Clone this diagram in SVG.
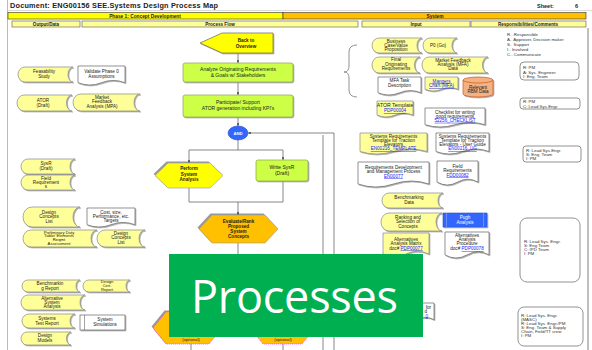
<svg xmlns="http://www.w3.org/2000/svg" width="592" height="350" viewBox="0 0 592 350">
<defs>
<style>
.t{font-family:"Liberation Sans",Arial,sans-serif;font-size:4.6px;fill:#222;text-anchor:middle}
.b{font-weight:bold}
.lk{fill:#1a1aff;text-decoration:underline}
.rt{font-family:"Liberation Sans",Arial,sans-serif;font-size:4.4px;fill:#333}
.data{fill:#FFFF99;stroke:#888;stroke-width:.7}
.doc{fill:#fff;stroke:#666;stroke-width:.7}
.docy{fill:#FFFF99;stroke:#888;stroke-width:.7}
.grn{fill:#CCFF44;stroke:#8aa04a;stroke-width:.7}
.hdr{fill:#FFFF99;stroke:#555;stroke-width:.6}
.c{stroke:#555;stroke-width:.7;fill:none}
.resp{fill:#fff;stroke:#777;stroke-width:.8}
</style>
<filter id="sh" x="-20%" y="-20%" width="140%" height="150%">
<feDropShadow dx="1" dy="1" stdDeviation=".5" flood-color="#999" flood-opacity=".8"/>
</filter>
<marker id="ar" viewBox="0 0 6 6" refX="6" refY="3" markerWidth="4" markerHeight="4" orient="auto">
<path d="M0,0 L6,3 L0,6 Z" fill="#444"/>
</marker>
</defs>
<rect width="592" height="350" fill="#fff"/>

<!-- frame -->
<line x1="7.5" y1="0" x2="7.5" y2="350" stroke="#bbb" stroke-width="1"/>
<line x1="8" y1="10.5" x2="592" y2="10.5" stroke="#ccc" stroke-width=".7"/>
<line x1="588" y1="28" x2="588" y2="350" stroke="#aaa" stroke-width="1.5"/>

<!-- header -->
<g id="header">
<text x="10" y="8.3" font-family="Liberation Sans, Arial, sans-serif" font-size="7.3" font-weight="bold" fill="#222" textLength="208">Document: ENG00156   SEE.Systems Design Process Map</text>
<text x="537" y="8" font-family="Liberation Sans, Arial, sans-serif" font-size="5.5" font-weight="bold" fill="#222">Sheet:</text>
<text x="575" y="8" font-family="Liberation Sans, Arial, sans-serif" font-size="5.5" font-weight="bold" fill="#222">6</text>
<rect x="8" y="12.5" width="275" height="6.5" fill="#FFFF00" stroke="#333" stroke-width=".6"/>
<rect x="283" y="12.5" width="303" height="6.5" fill="#FFC000" stroke="#333" stroke-width=".6"/>
<text class="t b" x="145" y="17.6" style="font-size:4.8px">Phase 1: Concept Development</text>
<text class="t b" x="435" y="17.6" style="font-size:4.8px">System</text>
<rect class="hdr" x="12" y="21" width="68" height="6"/>
<rect class="hdr" x="82" y="21" width="276" height="6"/>
<rect class="hdr" x="362" y="21" width="108" height="6"/>
<rect class="hdr" x="471" y="21" width="115" height="6"/>
<text class="t b" x="46" y="25.6" style="font-size:4.6px">Output/Data</text>
<text class="t b" x="220" y="25.6" style="font-size:4.6px">Process Flow</text>
<text class="t b" x="416" y="25.6" style="font-size:4.6px">Input</text>
<text class="t b" x="528" y="25.6" style="font-size:4.6px">Responsibilities/Comments</text>
</g>

<!-- connectors -->
<g id="connectors">
<path class="c" d="M238,53 V63" marker-end="url(#ar)"/>
<path class="c" d="M238,82 V95" marker-end="url(#ar)"/>
<path class="c" d="M238,117 V126" marker-end="url(#ar)"/>
<path class="c" d="M238,140 V150 M189,150 H283"/>
<path class="c" d="M189,150 V163" marker-end="url(#ar)"/>
<path class="c" d="M283,150 V160" marker-end="url(#ar)"/>
<path class="c" d="M189,188 V202 H283 V181"/>
<path class="c" d="M238,202 V215" marker-end="url(#ar)"/>
<path class="c" d="M238,243 V256"/>
<path class="c" d="M334,350 V133 H248" marker-end="url(#ar)"/>
<path class="c" d="M323,135 V350"/>
<path class="c" d="M191,344 V350 M283,344 V350"/>
<path d="M357,45 Q349,45 349,52 V66 Q349,72 344,72 Q349,72 349,78 V90 Q349,97 357,97" fill="none" stroke="#777" stroke-width=".8"/>
</g>

<!-- process flow -->
<g id="back-to-overview">
<polygon points="200,43 222,33 273,33 273,53 222,53" fill="#FFFF00" stroke="#666" stroke-width=".7" filter="url(#sh)"/>
<text class="t b" x="246" y="42">Back to</text>
<text class="t b" x="246" y="47.5">Overview</text>
</g>
<g id="analyze">
<rect class="grn" x="183" y="63" width="110" height="19" rx="2" filter="url(#sh)"/>
<text class="t" x="238" y="71" style="font-size:5px">Analyze Originating Requirements</text>
<text class="t" x="238" y="76.5" style="font-size:5px">&amp; Goals w/ Stakeholders</text>
</g>
<g id="participate">
<rect class="grn" x="183" y="95" width="110" height="22" rx="2" filter="url(#sh)"/>
<text class="t" x="238" y="104" style="font-size:5px">Participate/ Support</text>
<text class="t" x="238" y="109.5" style="font-size:5px">ATOR generation including KPI's</text>
</g>
<g id="and">
<ellipse cx="238" cy="133" rx="10" ry="7" fill="#3366FF" stroke="#2a4fc0" stroke-width=".6"/>
<text class="t b" x="238" y="134.6" style="fill:#fff;font-size:4.2px">AND</text>
</g>
<g id="perform">
<polygon points="153.5,174 166.5,161.5 208.5,161.5 221.5,174 208.5,186.5 166.5,186.5" fill="#555" opacity=".6"/>
<polygon points="155,175.5 168,163 210,163 223,175.5 210,188 168,188" fill="#FFFF00" stroke="#999" stroke-width=".6"/>
<text class="t b" x="189" y="170">Perform</text>
<text class="t b" x="189" y="175.5">System</text>
<text class="t b" x="189" y="181">Analysis</text>
</g>
<g id="write-sysr">
<rect class="grn" x="256" y="160" width="52" height="21" rx="2" filter="url(#sh)"/>
<text class="t" x="282" y="169" style="font-size:5px">Write SysR</text>
<text class="t" x="282" y="174.5" style="font-size:5px">(Draft)</text>
</g>
<g id="evaluate">
<polygon points="197.5,227.5 210.5,213.5 263.5,213.5 276.5,227.5 263.5,241.5 210.5,241.5" fill="#555" opacity=".6"/>
<polygon points="199,229 212,215 265,215 278,229 265,243 212,243" fill="#FFC000" stroke="#999" stroke-width=".6"/>
<text class="t b" x="238.5" y="223">Evaluate/Rank</text>
<text class="t b" x="238.5" y="228">Proposed</text>
<text class="t b" x="238.5" y="233">System</text>
<text class="t b" x="238.5" y="238">Concepts</text>
</g>
<g id="optional-1">
<polygon points="151.5,326.5 164.5,310.5 207.5,310.5 220.5,326.5 207.5,342.5 164.5,342.5" fill="#555" opacity=".6"/>
<polygon points="153,328 166,312 209,312 222,328 209,344 166,344" fill="#FFC000" stroke="#ff33ff" stroke-width=".8" stroke-dasharray="1,1"/>
<text class="t" x="191" y="341.2" style="font-size:4.2px">(optional)</text>
</g>
<g id="optional-2">
<polygon points="250,328 263,312 302,312 315,328 302,344 263,344" fill="#FFC000" stroke="#ff33ff" stroke-width=".8" stroke-dasharray="1,1"/>
<text class="t" x="283" y="341.2" style="font-size:4.2px">(optional)</text>
</g>

<!-- output/data column -->
<g id="feasability-study">
<path class="data" filter="url(#sh)" d="M25,67 H73 A5,7.5 0 0 0 73,82 H25 A7,7.5 0 0 1 25,67Z"/>
<text class="t" x="44" y="73">Feasability</text><text class="t" x="44" y="78">Study</text>
</g>
<g id="validate-phase0">
<path class="doc" filter="url(#sh)" d="M78,66H125V82.7Q113.25,78.1 101.5,82.7T78,82.7Z"/>
<text class="t" x="101.5" y="73">Validate Phase 0</text><text class="t" x="101.5" y="77.5">Assumptions</text>
</g>
<g id="ator-draft">
<path class="data" filter="url(#sh)" d="M24,95 H72 A5.5,8 0 0 0 72,111 H24 A7,8 0 0 1 24,95Z"/>
<text class="t" x="43" y="101.5">ATOR</text><text class="t" x="43" y="106.5">(Draft)</text>
</g>
<g id="market-feedback-mpa">
<path class="data" filter="url(#sh)" d="M81,94 H140 A6,8.5 0 0 0 140,111 H81 A8,8.5 0 0 1 81,94Z"/>
<text class="t" x="102" y="99">Market</text><text class="t" x="102" y="103.3">Feedback</text><text class="t" x="102" y="107.6">Analysis (MPA)</text>
</g>
<g id="sysr-draft">
<path class="data" filter="url(#sh)" d="M28,159 H75 A5,7.5 0 0 0 75,174 H28 A7,7.5 0 0 1 28,159Z"/>
<text class="t" x="46" y="165">SysR</text><text class="t" x="46" y="170">(Draft)</text>
</g>
<g id="field-requirements-out">
<path class="data" filter="url(#sh)" d="M28,175 H75 A5,7.5 0 0 0 75,190 H28 A7,7.5 0 0 1 28,175Z"/>
<text class="t" x="46" y="179.5">Field</text><text class="t" x="46" y="183.8">Requirement</text><text class="t" x="46" y="188.1">s</text>
</g>
<g id="design-concepts-list-1">
<path class="data" filter="url(#sh)" d="M32,207 H80 A7,10 0 0 0 80,227 H32 A9,10 0 0 1 32,207Z"/>
<text class="t" x="49" y="213.5">Design</text><text class="t" x="49" y="218">Concepts</text><text class="t" x="49" y="222.5">List</text>
</g>
<g id="cost-size-targets">
<path class="doc" filter="url(#sh)" d="M87,208H135V224.7Q123,220.1 111,224.7T87,224.7Z"/>
<text class="t" x="111" y="213.5">Cost, size,</text><text class="t" x="111" y="217.5">Performance, etc.</text><text class="t" x="111" y="221.5">Targets</text>
</g>
<g id="preliminary-duty">
<path class="data" filter="url(#sh)" d="M31,230 H97 A6,8.5 0 0 0 97,247 H31 A8,8.5 0 0 1 31,230Z"/>
<text class="t" x="59" y="233.5" style="font-size:4.2px">Preliminary Duty</text><text class="t" x="59" y="237.4" style="font-size:4.2px">Table/ Elements</text><text class="t" x="59" y="241.3" style="font-size:4.2px">Reqmt</text><text class="t" x="59" y="245.2" style="font-size:4.2px">Assessment</text>
</g>
<g id="design-concepts-list-2">
<path class="data" filter="url(#sh)" d="M105,230 H145 A6,8.5 0 0 0 145,247 H105 A8,8.5 0 0 1 105,230Z"/>
<text class="t" x="121" y="234.5">Design</text><text class="t" x="121" y="239">Concepts</text><text class="t" x="121" y="243.5">List</text>
</g>
<g id="benchmarking-report">
<path class="data" filter="url(#sh)" d="M28,280 H80 A4,6 0 0 0 80,292 H28 A6,6 0 0 1 28,280Z"/>
<text class="t" x="50" y="285.3">Benchmarkin</text><text class="t" x="50" y="289.8">g Report</text>
</g>
<g id="design-cert-report">
<path class="data" filter="url(#sh)" d="M89,280 H130 A4,6 0 0 0 130,292 H89 A6,6 0 0 1 89,280Z"/>
<text class="t" x="107" y="283" style="font-size:4px">Design</text><text class="t" x="107" y="286.8" style="font-size:4px">Cert.</text><text class="t" x="107" y="290.6" style="font-size:4px">Report</text>
</g>
<g id="alternative-system-analysis">
<path class="data" filter="url(#sh)" d="M28,295 H85 A5,7.5 0 0 0 85,310 H28 A7,7.5 0 0 1 28,295Z"/>
<text class="t" x="52" y="299.5">Alternative</text><text class="t" x="52" y="303.5">System</text><text class="t" x="52" y="307.5">Analysis</text>
</g>
<g id="systems-test-report">
<path class="data" filter="url(#sh)" d="M29,314 H75 A5,7 0 0 0 75,328 H29 A7,7 0 0 1 29,314Z"/>
<text class="t" x="47" y="320.3">Systems</text><text class="t" x="47" y="324.8">Test Report</text>
</g>
<g id="system-simulations">
<rect x="80" y="315" width="45" height="15" fill="#fff" stroke="#666" stroke-width=".7" filter="url(#sh)"/>
<line x1="84.5" y1="315" x2="84.5" y2="330" stroke="#666" stroke-width=".6"/>
<text class="t" x="105" y="321.3">System</text><text class="t" x="105" y="325.8">Simulations</text>
</g>
<g id="design-models">
<path class="data" filter="url(#sh)" d="M27,332 H71 A4.5,6.5 0 0 0 71,345 H27 A6,6.5 0 0 1 27,332Z"/>
<text class="t" x="45" y="337.3">Design</text><text class="t" x="45" y="341.8">Models</text>
</g>

<!-- input column -->
<g id="business-case">
<path class="data" filter="url(#sh)" d="M379,38 H422 A5,7.5 0 0 0 422,53 H379 A7,7.5 0 0 1 379,38Z"/>
<text class="t" x="396" y="42.8">Business</text><text class="t" x="396" y="47">Case/Value</text><text class="t" x="396" y="51.2">Proposition</text>
</g>
<g id="p0-go">
<path class="data" filter="url(#sh)" d="M430,38 H457 A5,7.5 0 0 0 457,53 H430 A7,7.5 0 0 1 430,38Z"/>
<text class="t" x="438" y="47.2">P0 (Go)</text>
</g>
<g id="final-originating-requirements">
<path class="data" filter="url(#sh)" d="M379,57 H420 A5.5,8 0 0 0 420,73 H379 A7,8 0 0 1 379,57Z"/>
<text class="t" x="396" y="61.3">Final</text><text class="t" x="396" y="65.6">Originating</text><text class="t" x="396" y="69.9">Requirements</text>
</g>
<g id="market-feedback-mfa-data">
<path class="data" filter="url(#sh)" d="M429,57 H488 A5.5,8 0 0 0 488,73 H429 A7,8 0 0 1 429,57Z"/>
<text class="t" x="453" y="61.5">Market Feedback</text><text class="t" x="453" y="65.8">Analysis (MFA)</text><text class="t" x="453" y="70.1">Data</text>
</g>
<g id="mfa-task">
<path class="doc" filter="url(#sh)" d="M378,77H421V92.8Q410.25,88.4 399.5,92.8T378,92.8Z"/>
<text class="t" x="399.5" y="82">MFA Task</text><text class="t" x="399.5" y="86.5">Description</text>
</g>
<g id="mangers-chart">
<path class="docy" filter="url(#sh)" d="M425,77H458V89.3Q449.75,85.9 441.5,89.3T425,89.3Z"/>
<text class="t lk" x="441.5" y="82.5">Mangers</text><text class="t lk" x="441.5" y="87">Chart (MFA)</text>
</g>
<g id="relevant-rbm-data">
<path d="M463,80 A15,3 0 0 1 493,80 V94 A15,3 0 0 1 463,94 Z" fill="#F4B183" stroke="#C55A11" stroke-width=".7" filter="url(#sh)"/>
<path d="M463,80 A15,3 0 0 0 493,80" fill="none" stroke="#C55A11" stroke-width=".7"/>
<text class="t" x="478" y="89">Relevant</text><text class="t" x="478" y="93.4">RBM Data</text>
</g>
<g id="ator-template">
<path class="docy" filter="url(#sh)" d="M377,101H413V115.1Q404,111.3 395,115.1T377,115.1Z"/>
<text class="t" x="395" y="107" style="font-size:5.2px">ATOR Template</text><text class="t lk" x="395" y="112">PDP00004</text>
</g>
<g id="checklist">
<path class="doc" filter="url(#sh)" d="M425,108H485V124.7Q470,120.1 455,124.7T425,124.7Z"/>
<text class="t" x="455" y="113.5">Checklist for writing</text><text class="t" x="455" y="117.6">good requirements</text><text class="t lk" x="455" y="121.8">52256_CHECKLIST</text>
</g>
<g id="sysreq-template">
<path class="docy" filter="url(#sh)" d="M360,133H427V151.5Q410.25,146.5 393.5,151.5T360,151.5Z"/>
<text class="t" x="393.5" y="137.5">Systems Requirements</text><text class="t" x="393.5" y="141.5">Template for Traction</text><text class="t" x="393.5" y="145.5">Elevators</text><text class="t lk" x="393.5" y="150">EN00216_TEMPLATE</text>
</g>
<g id="sysreq-user-guide">
<path class="doc" filter="url(#sh)" d="M436,133H489V151.5Q475.75,146.5 462.5,151.5T436,151.5Z"/>
<text class="t" x="462.5" y="137.5">Systems Requirements</text><text class="t" x="462.5" y="141.5">Template for Traction</text><text class="t" x="462.5" y="145.5">Elevators - User Guide</text><text class="t lk" x="462.5" y="150">EN00216_UG</text>
</g>
<g id="req-dev-process">
<path class="doc" filter="url(#sh)" d="M358,162H429V184Q411.25,178 393.5,184T358,184Z"/>
<text class="t" x="393.5" y="168.5">Requirements Development</text><text class="t" x="393.5" y="173">and Management Process</text><text class="t lk" x="393.5" y="177.5">EN00077</text>
</g>
<g id="field-requirements-in">
<path class="doc" filter="url(#sh)" d="M437,161H478V182.1Q467.75,176.3 457.5,182.1T437,182.1Z"/>
<text class="t" x="457.5" y="167.5">Field</text><text class="t" x="457.5" y="172">Requirements</text><text class="t lk" x="457.5" y="176.5">FDD00082</text>
</g>
<g id="benchmarking-data">
<path class="data" filter="url(#sh)" d="M389,193 H443 A5,7.5 0 0 0 443,208 H389 A7,7.5 0 0 1 389,193Z"/>
<text class="t" x="409" y="199">Benchmarking</text><text class="t" x="409" y="203.5">Data</text>
</g>
<g id="ranking-selection">
<path class="data" filter="url(#sh)" d="M389,213 H442 A6,9 0 0 0 442,231 H389 A8,9 0 0 1 389,213Z"/>
<text class="t" x="408" y="218.5">Ranking and</text><text class="t" x="408" y="223">Selection of</text><text class="t" x="408" y="227.5">Concepts</text>
</g>
<g id="pugh-analysis">
<rect x="443" y="213" width="44" height="14" fill="#3366FF" stroke="#2a4fc0" stroke-width=".6" filter="url(#sh)"/>
<line x1="446.5" y1="213" x2="446.5" y2="227" stroke="#9fb6ff" stroke-width=".5"/>
<line x1="483.5" y1="213" x2="483.5" y2="227" stroke="#9fb6ff" stroke-width=".5"/>
<text class="t" x="465" y="219" style="fill:#fff">Pugh</text><text class="t" x="465" y="224" style="fill:#fff">Analysis</text>
</g>
<g id="alternatives-matrix">
<path class="docy" filter="url(#sh)" d="M383,233H429V254.1Q417.5,248.3 406,254.1T383,254.1Z"/>
<text class="t" x="406" y="240.5">Alternatives</text><text class="t" x="406" y="245">Analysis Matrix</text><text class="t" x="406" y="249.5">doc# <tspan class="lk">PDP00077</tspan></text>
</g>
<g id="alternatives-procedure">
<path class="doc" filter="url(#sh)" d="M445,232H489V254.9Q478,248.7 467,254.9T445,254.9Z"/>
<text class="t" x="467" y="237">Alternatives</text><text class="t" x="467" y="241">Analysis</text><text class="t" x="467" y="245">Procedure</text><text class="t" x="467" y="250">doc# <tspan class="lk">PDP00078</tspan></text>
</g>
<g id="partial-doc">
<path class="doc" filter="url(#sh)" d="M400,303H434V319.7Q425.5,315.1 417,319.7T400,319.7Z"/>
<text class="t" x="431" y="308.5" style="text-anchor:end">for</text>
<text class="t" x="427" y="313" style="text-anchor:end">d</text>
<text class="t lk" x="428" y="317.5" style="text-anchor:end">0</text>
</g>

<!-- responsibilities -->
<g id="legend">
<text class="rt" x="507" y="36">R.. Responsible</text>
<text class="rt" x="507" y="41">A.. Approver, Decision maker</text>
<text class="rt" x="507" y="46">S.. Support</text>
<text class="rt" x="507" y="51">I.. Involved</text>
<text class="rt" x="507" y="56">C.. Communicate</text>
</g>
<g id="resp-1">
<rect class="resp" x="520" y="62" width="59" height="18" rx="4"/>
<text class="rt" x="523" y="69">R: PM</text><text class="rt" x="523" y="73.5">A: Sys. Engineer</text><text class="rt" x="523" y="78">I: Eng. Team</text>
</g>
<g id="resp-2">
<rect class="resp" x="520" y="98" width="60" height="11" rx="3"/>
<text class="rt" x="523" y="103">R: PM</text><text class="rt" x="523" y="107.5">C: Lead Sys.Engr.</text>
</g>
<g id="resp-3">
<rect class="resp" x="523" y="146" width="58" height="16" rx="3"/>
<text class="rt" x="526" y="151.5">R: Lead Sys.Engr.</text><text class="rt" x="526" y="155.5">S: Eng. Team</text><text class="rt" x="526" y="159.5">I: PM</text>
</g>
<g id="resp-4">
<rect class="resp" x="520" y="218" width="60" height="64" rx="7"/>
<text class="rt" x="524" y="242.5">R: Lead Sys. Engr.</text><text class="rt" x="524" y="246.5">S: Eng Team</text><text class="rt" x="524" y="250.5">C: IPD Team</text><text class="rt" x="524" y="254.5">I: PM</text>
</g>
<g id="resp-5">
<rect class="resp" x="518" y="307" width="65" height="39" rx="6"/>
<text class="rt" x="521" y="316.5">R: Lead Sys. Engr.</text><text class="rt" x="521" y="320.5">(MASC)</text><text class="rt" x="521" y="324.5">R: Lead Sys. Engr./PM</text><text class="rt" x="521" y="328.5">S: Eng. Team &amp; Supply</text><text class="rt" x="521" y="332.5">Chain, Field/TT crew</text><text class="rt" x="521" y="336.5">I: PM</text>
</g>

<!-- overlay banner -->
<g id="processes-banner">
<rect x="169" y="254" width="254" height="83" fill="#00B050"/>
<text x="294.5" y="313" font-family="Open Sans, Noto Sans, sans-serif" font-size="45" fill="#fff" text-anchor="middle" textLength="207">Processes</text>
</g>
</svg>
